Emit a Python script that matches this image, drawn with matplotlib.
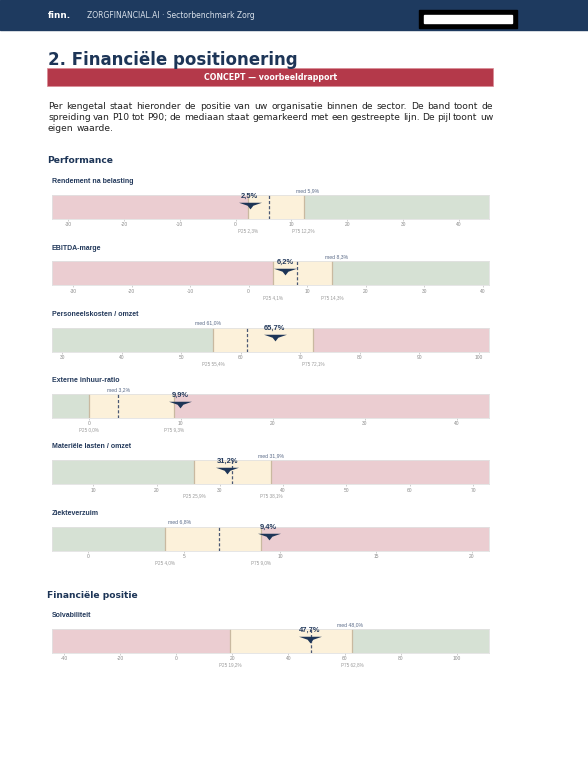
import matplotlib
matplotlib.use('Agg')
import matplotlib.pyplot as plt
import numpy as np
from matplotlib.path import Path
from matplotlib.patches import Rectangle

plt.rcParams['axes.unicode_minus'] = False

# kengetallen
names = ['Rendement na belasting', 'EBITDA-marge', 'Personeelskosten / omzet',
         'Externe inhuur-ratio', 'Materiële lasten / omzet', 'Ziekteverzuim',
         'Solvabiliteit']
values = [2.5, 6.2, 65.7, 9.9, 31.2, 9.4, 47.7]
p25 = [2.3, 4.1, 55.4, 0.0, 25.9, 4.0, 19.2]
median = [5.9, 8.3, 61.0, 3.2, 31.9, 6.8, 48.0]
p75 = [12.2, 14.3, 72.1, 9.3, 38.1, 9.0, 62.8]
x_min = [-32.9, -33.6, 28.3, -4.0, 3.5, -1.9, -44.3]
x_max = [45.4, 41.1, 101.7, 43.5, 72.5, 20.9, 111.5]
tick_step = [10, 10, 10, 10, 10, 5, 20]
higher_better = [True, True, False, False, False, False, True]

para = ["Per kengetal staat hieronder de positie van uw organisatie binnen de sector. De band toont de",
        "spreiding van P10 tot P90; de mediaan staat gemarkeerd met een gestreepte lijn. De pijl toont uw",
        "eigen waarde."]

W, H = 588, 772
navy = '#1d3557'
red = '#ebcdd1'
yellow = '#fcf1da'
green = '#d6e1d4'


def fx(px):
    return px / W


def fy(py):
    return 1 - py / H


def fmt(v):
    return f"{v:.1f}".replace('.', ',')


fig = plt.figure(figsize=(W / 100, H / 100), dpi=100)
renderer = fig.canvas.get_renderer()

# header
fig.patches.append(Rectangle((0, fy(29.5)), 1, 29.5 / H, transform=fig.transFigure,
                             color='#1e3a5f', zorder=0))
fig.patches.append(Rectangle((fx(419), fy(27.7)), 97.7 / W, 17.7 / H, transform=fig.transFigure,
                             color='black', zorder=1))
fig.patches.append(Rectangle((fx(424), fy(22.7)), 88 / W, 8 / H, transform=fig.transFigure,
                             color='white', zorder=2))
fig.text(fx(47.7), fy(16), 'finn.', color='white', fontsize=6.4, fontweight='bold', va='center')
fig.text(fx(86.7), fy(16), 'ZORGFINANCIAL.AI · Sectorbenchmark Zorg', color='#d8e0ea',
         fontsize=5.5, va='center')

# titel + banner
fig.text(fx(47.5), fy(65), '2. Financiële positionering', color=navy, fontsize=12,
         fontweight='bold', va='baseline')
fig.patches.append(Rectangle((fx(47.3), fy(86)), 446 / W, 17.7 / H, transform=fig.transFigure,
                             facecolor='#b4394a', edgecolor='#d98a95', lw=0.5, zorder=1))
fig.text(fx(270.3), fy(77.2), 'CONCEPT — voorbeeldrapport', color='white', fontsize=5.7,
         fontweight='bold', ha='center', va='center')

# uitgevulde alinea
x0, x1 = 48, 493.3
fs = 6.6
for i, line in enumerate(para):
    y = 106.5 + i * 10.8
    words = line.split()
    texts = [fig.text(0, fy(y), w, fontsize=fs, color='#222222', va='center') for w in words]
    widths = [t.get_window_extent(renderer).width for t in texts]
    if i == len(para) - 1:
        gap = 0.318 * fs * 100 / 72
    else:
        gap = (x1 - x0 - sum(widths)) / (len(words) - 1)
    x = x0
    for t, w in zip(texts, widths):
        t.set_x(fx(x))
        x += w + gap

fig.text(fx(47.3), fy(160.7), 'Performance', color=navy, fontsize=6.6, fontweight='bold', va='center')
fig.text(fx(47.3), fy(595), 'Financiële positie', color=navy, fontsize=6.6, fontweight='bold', va='center')

arrow = Path([(-1, 0.24), (1, 0.24), (0.25, -0.02), (0, -0.34), (-0.25, -0.02), (-1, 0.24)],
             [Path.MOVETO, Path.LINETO, Path.LINETO, Path.LINETO, Path.LINETO, Path.CLOSEPOLY])

tops = [195 + i * 66.3 for i in range(6)] + [629]
bar_left, bar_w, bar_h = 52, 437, 24

for i, name in enumerate(names):
    top = tops[i]
    lo, hi = x_min[i], x_max[i]
    ax = fig.add_axes([fx(bar_left), fy(top + bar_h), bar_w / W, bar_h / H])
    ax.set_xlim(lo, hi)
    ax.set_ylim(0, 1)
    left_c, right_c = (red, green) if higher_better[i] else (green, red)
    ax.axvspan(lo, p25[i], color=left_c, lw=0, zorder=1)
    ax.axvspan(p25[i], p75[i], color=yellow, lw=0, zorder=1)
    ax.axvspan(p75[i], hi, color=right_c, lw=0, zorder=1)
    ax.axvline(p25[i], color='#c9b9a0', lw=0.9, zorder=2)
    ax.axvline(p75[i], color='#c9b9a0', lw=0.9, zorder=2)
    ax.axvline(median[i], color='#4a5874', lw=0.9, ls=(0, (2.5, 1.6)), zorder=3)
    ax.plot([values[i]], [0.6], marker=arrow, ms=16.5, color=navy, mec=navy, mew=0,
            ls='none', zorder=4, clip_on=False)

    step = tick_step[i]
    ticks = np.arange(np.ceil(lo / step) * step, hi + 1e-9, step)
    ax.set_xticks(ticks)
    ax.set_xticklabels([str(int(t)) for t in ticks])
    ax.set_yticks([])
    ax.tick_params(axis='x', length=1.2, width=0.5, color='#bbbbbb', labelsize=3.5,
                   labelcolor='#8a8a8a', pad=1.2)
    for tl in ax.get_xticklabels():
        tl.set_fontfamily('Liberation Sans')
    for s in ax.spines.values():
        s.set_color('#e2e2e2')
        s.set_linewidth(0.6)

    fig.text(fx(bar_left), fy(top - 13.3), name, color='#23395b', fontsize=5,
             fontweight='bold', family='Liberation Sans', va='center')

    # waardelabel
    ax.annotate(fmt(values[i]) + '%', xy=(values[i], 1), xycoords=('data', 'axes fraction'),
                xytext=(0, -1), textcoords='offset pixels', ha='center', va='center',
                fontsize=5.4, fontweight='bold', color='#23395b', family='Liberation Sans',
                zorder=5, annotation_clip=False)

    # mediaanlabel, wijkt uit als het te dicht bij de waarde staat
    ppu = bar_w / (hi - lo)
    d = (median[i] - values[i]) * ppu
    shift = 0 if abs(d) > 56 else (39 if d >= 0 else -39)
    ax.annotate('med ' + fmt(median[i]) + '%', xy=(median[i], 1), xycoords=('data', 'axes fraction'),
                xytext=(shift, 4.5), textcoords='offset pixels', ha='center', va='center',
                fontsize=3.7, color='#5b6b88', family='Liberation Sans', annotation_clip=False)

    for lab, v in (('P25', p25[i]), ('P75', p75[i])):
        ax.annotate(f'{lab} {fmt(v)}%', xy=(v, 0), xycoords=('data', 'axes fraction'),
                    xytext=(0, -12), textcoords='offset pixels', ha='center', va='center',
                    fontsize=3.3, color='#9a9a9a', family='Liberation Sans', annotation_clip=False)

fig.savefig('out.png', dpi=100)
